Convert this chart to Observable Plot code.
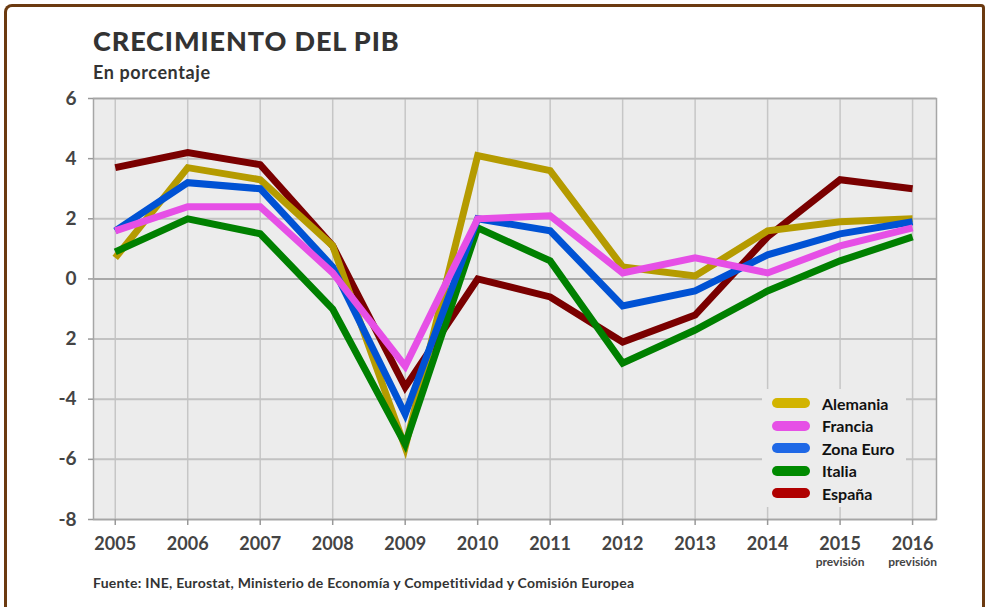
<!DOCTYPE html>
<html>
<head>
<meta charset="utf-8">
<script src="https://cdn.jsdelivr.net/npm/d3@7"></script>
<script src="https://cdn.jsdelivr.net/npm/@observablehq/plot@0.6"></script>
<style>
  html, body { margin: 0; padding: 0; background: #fff; }
  body { width: 985px; height: 607px; position: relative; overflow: hidden; font-family: Lato, "Open Sans", sans-serif; }
  #frame { position: absolute; left: 4px; top: 4px; width: 981px; height: 640px; border: 3px solid #6b3a10; border-bottom: none; border-radius: 8px 4px 0 0; box-sizing: border-box; }
  #chart { position: absolute; left: 0; top: 0; }
  #title { position: absolute; left: 93px; top: 24px; font-size: 27px; font-weight: 900; color: #333; letter-spacing: 0.9px; }
  #subtitle { position: absolute; left: 93px; top: 61px; font-size: 18px; font-weight: 700; color: #333; letter-spacing: 0.6px; }
  #source { position: absolute; left: 93px; top: 574px; font-size: 14px; font-weight: 700; color: #333; letter-spacing: 0.25px; }
  #legend { position: absolute; left: 762px; top: 389px; width: 144px; height: 118px; background: #ececec; }
  .item { position: absolute; left: 10px; height: 22px; display: flex; align-items: center; font-size: 16px; font-weight: 700; color: #111; }
  .sw { width: 38px; height: 10px; border-radius: 5px; margin-right: 12px; }
</style>
</head>
<body>
<div id="frame"></div>
<div id="chart"></div>
<div id="title">CRECIMIENTO DEL PIB</div>
<div id="subtitle">En porcentaje</div>
<div id="source">Fuente: INE, Eurostat, Ministerio de Economía y Competitividad y Comisión Europea</div>
<div id="legend"></div>
<script>
const years = [2005, 2006, 2007, 2008, 2009, 2010, 2011, 2012, 2013, 2014, 2015, 2016];
const forecastYears = [2015, 2016];
const series = ["Alemania", "Francia", "Zona Euro", "Italia", "España"];
const alemania = [0.7, 3.7, 3.3, 1.1, -5.6, 4.1, 3.6, 0.4, 0.1, 1.6, 1.9, 2.0];
const francia  = [1.6, 2.4, 2.4, 0.2, -2.9, 2.0, 2.1, 0.2, 0.7, 0.2, 1.1, 1.7];
const zonaEuro = [1.6, 3.2, 3.0, 0.4, -4.5, 2.0, 1.6, -0.9, -0.4, 0.8, 1.5, 1.9];
const italia   = [0.9, 2.0, 1.5, -1.0, -5.5, 1.7, 0.6, -2.8, -1.7, -0.4, 0.6, 1.4];
const espana   = [3.7, 4.2, 3.8, 1.1, -3.6, 0.0, -0.6, -2.1, -1.2, 1.4, 3.3, 3.0];
const yTicks = [-8, -6, -4, -2, 0, 2, 4, 6];
const yTickLabels = ["-8", "-6", "-4", "2", "0", "2", "4", "6"];
const lineColors = ["#b59b00", "#e64fe6", "#0052d4", "#008000", "#7a0000"];
const legendColors = ["#d2b400", "#e650e6", "#1f68e6", "#008a00", "#b00000"];
const drawOrder = ["España", "Alemania", "Italia", "Zona Euro", "Francia"];

const valuesBySeries = {"Alemania": alemania, "Francia": francia, "Zona Euro": zonaEuro, "Italia": italia, "España": espana};
const rows = [];
for (const s of drawOrder) {
  valuesBySeries[s].forEach((v, i) => rows.push({serie: s, year: years[i], value: v}));
}

const chart = Plot.plot({
  width: 985,
  height: 607,
  marginTop: 98,
  marginBottom: 88,
  marginLeft: 93,
  marginRight: 49,
  style: {fontFamily: "Lato, sans-serif", background: "transparent", overflow: "visible"},
  x: {type: "linear", domain: [2004.7, 2016.33], axis: null, label: null},
  y: {domain: [-8, 6], axis: null, label: null},
  color: {domain: series, range: lineColors},
  marks: [
    Plot.frame({fill: "#ececec"}),
    Plot.ruleX(years, {stroke: "#c6c6c6", strokeWidth: 1.5}),
    Plot.ruleY(yTicks, {stroke: "#c2c2c2", strokeWidth: 2}),
    Plot.ruleY([0], {stroke: "#a8a8a8", strokeWidth: 2}),
    Plot.frame({stroke: "#a6a6a6", strokeWidth: 1.5}),
    Plot.axisY({ticks: yTicks, tickFormat: d => yTickLabels[yTicks.indexOf(d)], tickSize: 5, tickPadding: 12, label: null,
      fontSize: 19, fontWeight: "bold", fill: "#444", stroke: "#999", strokeWidth: 1.5}),
    Plot.axisX({ticks: years, tickFormat: d => String(d), tickSize: 6, tickPadding: 12, label: null,
      fontSize: 18, fontWeight: "bold", fill: "#444", stroke: "#999", strokeWidth: 1.5}),
    Plot.text(forecastYears, {x: d => d, frameAnchor: "bottom", dy: 46, text: () => "previsión",
      fontSize: 12, fontWeight: "bold", fill: "#444"}),
    Plot.line(rows, {x: "year", y: "value", z: "serie", stroke: "serie", strokeWidth: 7,
      strokeLinejoin: "miter", strokeLinecap: "butt", strokeMiterlimit: 10})
  ]
});
document.getElementById("chart").appendChild(chart);

const legend = document.getElementById("legend");
series.forEach((s, i) => {
  const it = document.createElement("div");
  it.className = "item";
  it.style.top = (3 + i * 22.5) + "px";
  it.innerHTML = `<span class="sw" style="background:${legendColors[i]}"></span><span>${s}</span>`;
  legend.appendChild(it);
});
</script>
</body>
</html>
